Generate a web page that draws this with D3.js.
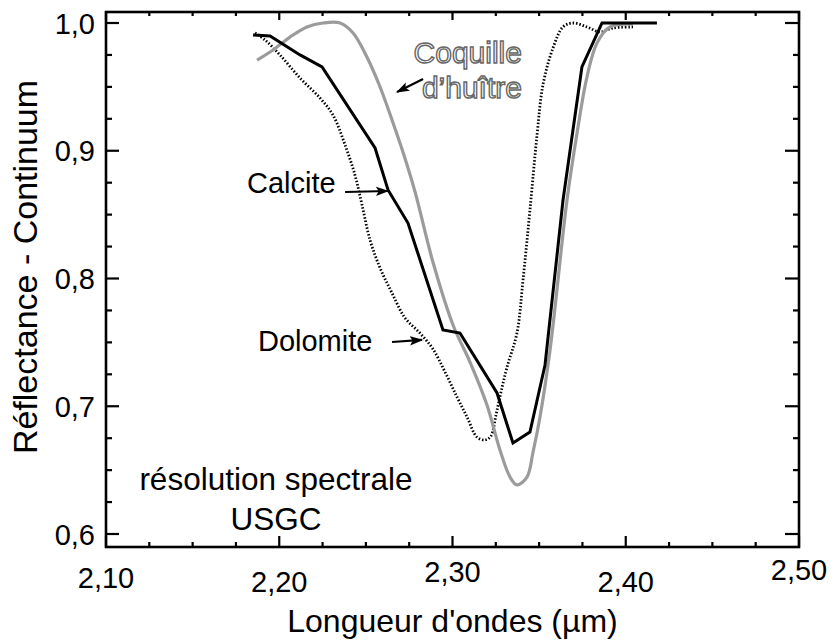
<!DOCTYPE html>
<html><head><meta charset="utf-8">
<script src="https://cdn.jsdelivr.net/npm/d3@7"></script>
<style>
html,body{margin:0;padding:0;background:#fff;}
svg text{font-family:"Liberation Sans",Arial,Helvetica,sans-serif;}
</style></head>
<body><svg id="c" width="837" height="640"></svg>
<script>
// ---------- data ----------
const xMajorTicks = [2.10, 2.20, 2.30, 2.40, 2.50];
const xTickLabels = ["2,10", "2,20", "2,30", "2,40", "2,50"];
const yMajorTicks = [0.6, 0.7, 0.8, 0.9, 1.0];
const yTickLabels = ["0,6", "0,7", "0,8", "0,9", "1,0"];
const xMinorTicks = d3.range(0, 17).map(i => 2.10 + i * 0.025);
const yMinorTicks = d3.range(0, 17).map(i => 0.60 + i * 0.025);

const calciteWl = [2.1849, 2.1947, 2.2120, 2.2247, 2.2553, 2.2628, 2.2743, 2.2945, 2.3043, 2.3257, 2.3349, 2.3447, 2.3534, 2.3638, 2.3747, 2.3863, 2.4180];
const calciteR  = [0.9906, 0.9898, 0.9750, 0.9656, 0.9022, 0.8693, 0.8434, 0.7597, 0.7573, 0.7104, 0.6712, 0.6798, 0.7323, 0.8614, 0.9656, 1.0000, 1.0000];

const oysterWl = [2.1872, 2.1964, 2.2062, 2.2160, 2.2253, 2.2351, 2.2426, 2.2506, 2.2582, 2.2657, 2.2714, 2.2784, 2.2887, 2.3003, 2.3101, 2.3199, 2.3274, 2.3332, 2.3372, 2.3430, 2.3465, 2.3505, 2.3563, 2.3661, 2.3719, 2.3776, 2.3834, 2.3909, 2.4042];
const oysterR  = [0.9710, 0.9789, 0.9890, 0.9969, 1.0000, 1.0000, 0.9922, 0.9734, 0.9499, 0.9217, 0.8990, 0.8677, 0.8129, 0.7636, 0.7346, 0.7010, 0.6658, 0.6446, 0.6384, 0.6446, 0.6642, 0.6916, 0.7440, 0.8614, 0.9139, 0.9577, 0.9843, 0.9969, 0.9992];

const dolomiteWl = [2.1860, 2.1918, 2.2004, 2.2120, 2.2235, 2.2310, 2.2380, 2.2437, 2.2478, 2.2524, 2.2582, 2.2651, 2.2726, 2.2812, 2.2887, 2.2957, 2.3026, 2.3084, 2.3141, 2.3188, 2.3222, 2.3251, 2.3280, 2.3315, 2.3372, 2.3407, 2.3447, 2.3488, 2.3522, 2.3580, 2.3638, 2.3696, 2.3776, 2.3851, 2.3926, 2.4042];
const dolomiteR  = [0.9922, 0.9867, 0.9750, 0.9569, 0.9413, 0.9280, 0.9045, 0.8810, 0.8575, 0.8301, 0.8082, 0.7886, 0.7691, 0.7573, 0.7448, 0.7268, 0.7072, 0.6916, 0.6759, 0.6736, 0.6767, 0.6932, 0.7112, 0.7307, 0.7573, 0.7988, 0.8536, 0.9123, 0.9515, 0.9804, 0.9969, 1.0000, 0.9969, 0.9930, 0.9961, 0.9969];

const xTitle = "Longueur d'ondes (µm)";
const yTitle = "Réflectance - Continuum";

// ---------- layout ----------
const svg = d3.select("#c");
const x = d3.scaleLinear().domain([2.10, 2.50]).range([106, 799]);
const y = d3.scaleLinear().domain([0.60, 1.00]).range([534, 23]);
const frameTop = 12, frameBottom = 547;
const FONT = 29;

// frame
svg.append("rect").attr("x", x(2.10)).attr("y", frameTop)
  .attr("width", x(2.50) - x(2.10)).attr("height", frameBottom - frameTop)
  .attr("fill", "none").attr("stroke", "#000").attr("stroke-width", 2.6);

const isMajor = (v, arr) => arr.some(m => Math.abs(m - v) < 1e-6);

// ticks
const tickG = svg.append("g").attr("stroke", "#000").attr("stroke-width", 2.2);
xMinorTicks.forEach(v => {
  const maj = isMajor(v, xMajorTicks);
  tickG.append("line").attr("x1", x(v)).attr("x2", x(v)).attr("y1", frameBottom).attr("y2", frameBottom - (maj ? 11 : 5));
  tickG.append("line").attr("x1", x(v)).attr("x2", x(v)).attr("y1", frameTop).attr("y2", frameTop + (maj ? 8 : 4));
});
yMinorTicks.forEach(v => {
  const maj = isMajor(v, yMajorTicks);
  tickG.append("line").attr("x1", x(2.10)).attr("x2", x(2.10) + (maj ? 13 : 6)).attr("y1", y(v)).attr("y2", y(v));
  tickG.append("line").attr("x1", x(2.50)).attr("x2", x(2.50) - (maj ? 14 : 6)).attr("y1", y(v)).attr("y2", y(v));
});

// tick labels
const xLabelDy = [8, 12, 2, 12, 0];
xMajorTicks.forEach((v, i) => {
  svg.append("text").attr("x", x(v)).attr("y", 580 + xLabelDy[i])
    .attr("text-anchor", "middle").attr("font-size", FONT).text(xTickLabels[i]);
});
yMajorTicks.forEach((v, i) => {
  svg.append("text").attr("x", 95).attr("y", y(v) + 10.5)
    .attr("text-anchor", "end").attr("font-size", FONT).text(yTickLabels[i]);
});

// axis titles
svg.append("text").attr("x", (x(2.10) + x(2.50)) / 2).attr("y", 632)
  .attr("text-anchor", "middle").attr("font-size", 32).text(xTitle);
svg.append("text").attr("transform", `translate(37,267) rotate(-90)`)
  .attr("text-anchor", "middle").attr("font-size", 34).text(yTitle);

// curves
const mk = (wl, r) => wl.map((w, i) => [w, r[i]]);
const lineLin = d3.line().x(d => x(d[0])).y(d => y(d[1]));
const lineSmooth = d3.line().x(d => x(d[0])).y(d => y(d[1])).curve(d3.curveCatmullRom.alpha(0.5));

svg.append("path").datum(mk(dolomiteWl, dolomiteR)).attr("d", lineSmooth)
  .attr("fill", "none").attr("stroke", "#000").attr("stroke-width", 2.8).attr("stroke-dasharray", "1.5,1.9");
svg.append("path").datum(mk(oysterWl, oysterR)).attr("d", lineSmooth)
  .attr("fill", "none").attr("stroke", "#9b9b9b").attr("stroke-width", 3.2);
svg.append("path").datum(mk(calciteWl, calciteR)).attr("d", lineLin)
  .attr("fill", "none").attr("stroke", "#000").attr("stroke-width", 3).attr("stroke-linejoin", "miter");

// arrows
svg.append("defs").append("marker").attr("id", "ah").attr("viewBox", "0 0 12 10")
  .attr("refX", 11).attr("refY", 5).attr("markerWidth", 6).attr("markerHeight", 5)
  .attr("markerUnits", "strokeWidth").attr("orient", "auto")
  .append("path").attr("d", "M0,0.8 L12,5 L0,9.2 L2.5,5 Z").attr("fill", "#000");
const arrow = (x1, y1, x2, y2) => svg.append("line")
  .attr("x1", x(x1)).attr("y1", y(y1)).attr("x2", x(x2)).attr("y2", y(y2))
  .attr("stroke", "#000").attr("stroke-width", 2.2).attr("marker-end", "url(#ah)");

// annotations
svg.append("text").attr("x", x(2.1814)).attr("y", y(0.8669)).attr("font-size", FONT).text("Calcite");
arrow(2.2380, 0.8677, 2.2628, 0.8685);
svg.append("text").attr("x", x(2.1877)).attr("y", y(0.7432)).attr("font-size", FONT).text("Dolomite");
arrow(2.2651, 0.7503, 2.2824, 0.7519);
const outl = t => t.attr("fill", "#fff").attr("stroke", "#666").attr("stroke-width", 1.4).attr("font-size", 30).attr("text-anchor", "end");
outl(svg.append("text").attr("x", x(2.3401)).attr("y", y(0.9687))).text("Coquille");
outl(svg.append("text").attr("x", x(2.3401)).attr("y", y(0.9413))).text("d’huître");
arrow(2.2830, 0.9562, 2.2680, 0.9460);
svg.append("text").attr("x", x(2.1981)).attr("y", y(0.6344)).attr("text-anchor", "middle").attr("font-size", 31.5).text("résolution spectrale");
svg.append("text").attr("x", x(2.1981)).attr("y", y(0.6031)).attr("text-anchor", "middle").attr("font-size", 31.5).text("USGC");
</script></body></html>
